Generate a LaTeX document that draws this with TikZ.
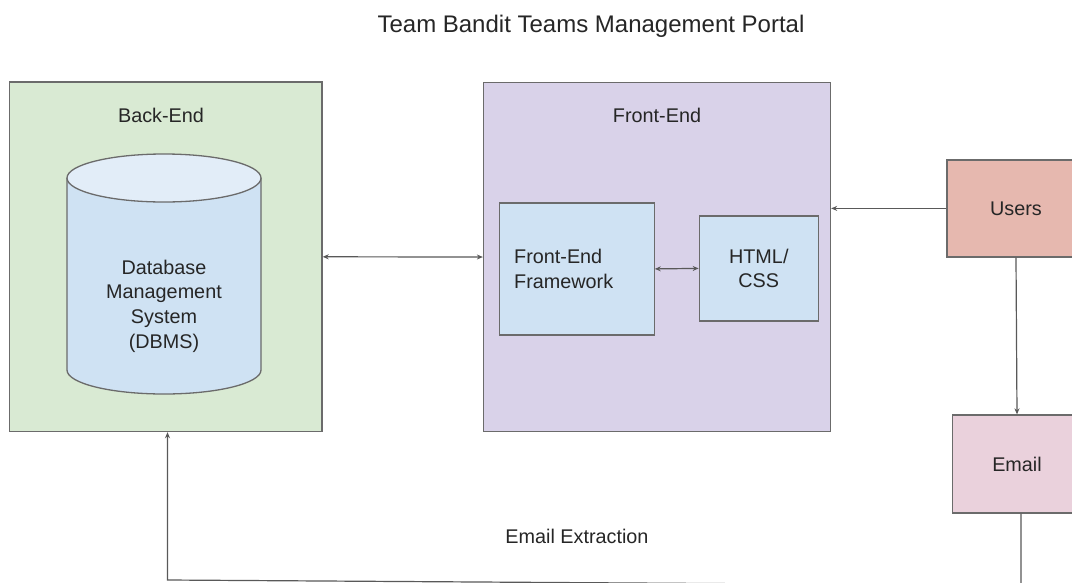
\documentclass[tikz,border=0pt]{standalone}
\usepackage{fontspec}
\setmainfont{Liberation Sans}
\usetikzlibrary{arrows.meta,positioning}
\definecolor{ink}{HTML}{262626}
\definecolor{edge}{HTML}{6B6B6B}
\definecolor{wire}{HTML}{595959}
\definecolor{sage}{HTML}{D9EAD3}
\definecolor{lilac}{HTML}{D9D2E9}
\definecolor{sky}{HTML}{CFE2F3}
\definecolor{skytop}{HTML}{E2EDF8}
\definecolor{salmon}{HTML}{E6B8AF}
\definecolor{blush}{HTML}{EAD1DC}

\begin{document}
\begin{tikzpicture}[x=1pt,y=-1pt,line width=1.2pt]
      \tikzset{
        txt/.style={text=ink,font=\fontsize{19.8}{24.6}\selectfont,align=center,inner sep=0pt},
        panel/.style={draw=edge,line width=1.3pt},
        box/.style={panel,txt},
        flow/.style={-{Stealth[length=6pt,width=5pt]},draw=wire},
        both/.style={{Stealth[length=6pt,width=5pt]}-{Stealth[length=6pt,width=5pt]},draw=wire}
      }
      \fill[white] (0,0) rectangle (1072,582);
      \useasboundingbox (0,0) rectangle (1072,582);

      \node[txt,font=\fontsize{24}{29}\selectfont] (title) at (591,26) {Team Bandit Teams Management Portal};

      % the two tiers
      \node[panel,fill=sage,minimum width=312.7,minimum height=349.5] (back) at (165.7,256.8) {};
      \node[panel,fill=lilac,minimum width=347,minimum height=349] (front) at (657,257) {};
      \node[txt] (backlbl) at (161,115) {Back-End};
      \node[txt] (frontlbl) at (657,115) {Front-End};

      % database drum
      \fill[sky] (67,178) -- (67,370) arc[start angle=180,end angle=360,x radius=97pt,y radius=24pt] -- (261,178) -- cycle;
      \draw[edge,line width=1.3pt] (67,178) -- (67,370) arc[start angle=180,end angle=360,x radius=97pt,y radius=24pt] -- (261,178);
      \draw[edge,fill=skytop,line width=1.3pt] (164,178) ellipse[x radius=97pt,y radius=24pt];
      \node[txt] (dbms) at (164,306) {Database\\Management\\System\\(DBMS)};

      \node[box,fill=sky,minimum width=155,minimum height=132,text width=125,align=left] (fw) at (576.7,268.9) {Front-End\\Framework};
      \node[box,fill=sky,minimum width=119,minimum height=105] (html) at (758.8,268.4) {HTML/\\CSS};

      \node[box,fill=salmon,minimum width=138,minimum height=97] (users) at (1016,208.4) {Users};
      \node[box,fill=blush,minimum width=129.4,minimum height=98] (email) at (1017,464) {Email};
      \node[txt] (extract) at (577,536) {Email Extraction};

      \draw[both] (back.east) -- (front.west);
      \draw[both] (fw.east) -- (html.west);
      \draw[flow] (users.west) -- (users.west -| front.east);
      \draw[flow] (users.south) -- (email.north);

      % extraction loop runs along the bottom edge
      \coordinate (sink) at (1021,585.5);
      \coordinate (turn) at (167.5,580);
      \draw[flow] ([xshift=4pt]email.south) -- (sink) -- (turn) -- (turn |- back.south);
    \end{tikzpicture}
\end{document}
